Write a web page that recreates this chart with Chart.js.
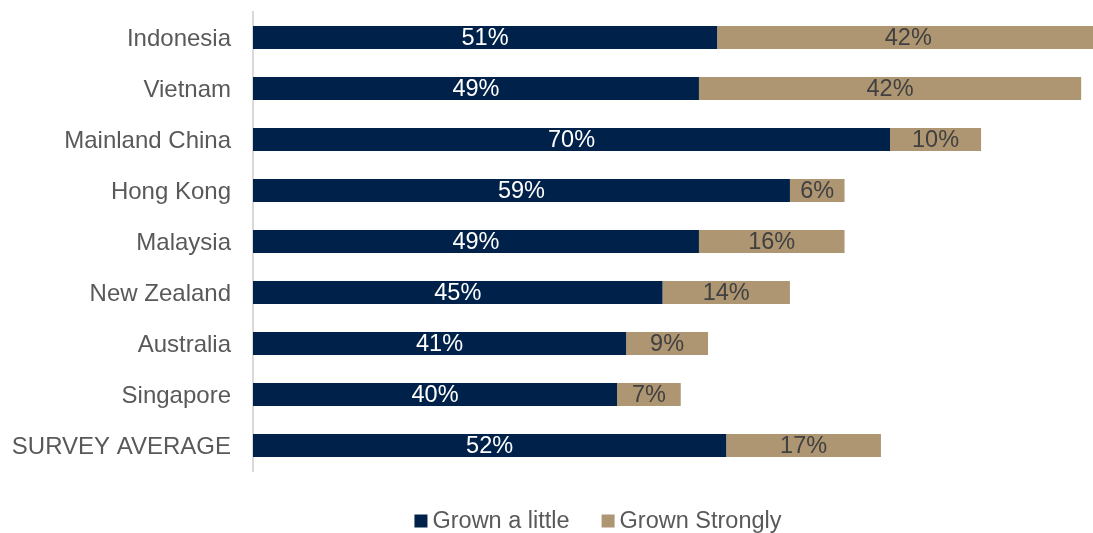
<!DOCTYPE html>
<html>
<head>
<meta charset="utf-8">
<script src="https://cdn.jsdelivr.net/npm/chart.js@4"></script>
<style>
  html, body { margin: 0; padding: 0; background: #fff; }
  #wrap { width: 1093px; height: 533px; }
</style>
</head>
<body>
<div id="wrap"><canvas id="growthChart"></canvas></div>
<script>
var countries = ['Indonesia', 'Vietnam', 'Mainland China', 'Hong Kong', 'Malaysia', 'New Zealand', 'Australia', 'Singapore', 'SURVEY AVERAGE'];
var grownLittle = [51, 49, 70, 59, 49, 45, 41, 40, 52];
var grownStrongly = [42, 42, 10, 6, 16, 14, 9, 7, 17];

var navy = '#00224a';
var tan = '#ae9673';
var fontFamily = '"Liberation Sans", Arial, sans-serif';
var fontSize = 24;

// percentage labels centred in each bar segment
var segmentLabels = {
    id: 'segmentLabels',
    afterDatasetsDraw: function(chart) {
        var ctx = chart.ctx;
        ctx.save();
        ctx.font = '23.5px ' + fontFamily;
        ctx.textAlign = 'center';
        ctx.textBaseline = 'middle';
        chart.data.datasets.forEach(function(ds, i) {
            chart.getDatasetMeta(i).data.forEach(function(bar, j) {
                ctx.fillStyle = ds.labelColor;
                ctx.fillText(ds.data[j] + '%', (bar.x + bar.base) / 2, bar.y + 1);
            });
        });
        ctx.restore();
    }
};

// legend under the plot: small square + name, tight spacing
var bottomLegend = {
    id: 'bottomLegend',
    afterDraw: function(chart) {
        var ctx = chart.ctx;
        var box = 13, gap = 5, itemGap = 32;
        var centerX = 598, centerY = 521;
        ctx.save();
        ctx.font = '23.5px ' + fontFamily;
        ctx.textBaseline = 'middle';
        var items = chart.data.datasets.map(function(ds) {
            return { text: ds.label, color: ds.backgroundColor, w: ctx.measureText(ds.label).width };
        });
        var total = 0;
        items.forEach(function(it, i) {
            total += box + gap + it.w + (i > 0 ? itemGap : 0);
        });
        var x = centerX - total / 2;
        items.forEach(function(it) {
            ctx.fillStyle = it.color;
            ctx.fillRect(x, centerY - box / 2, box, box);
            ctx.fillStyle = '#595959';
            ctx.fillText(it.text, x + box + gap, centerY + 1);
            x += box + gap + it.w + itemGap;
        });
        ctx.restore();
    }
};

new Chart(document.getElementById('growthChart').getContext('2d'), {
    type: 'bar',
    data: {
        labels: countries,
        datasets: [
            {
                label: 'Grown a little',
                data: grownLittle,
                backgroundColor: navy,
                labelColor: '#ffffff'
            },
            {
                label: 'Grown Strongly',
                data: grownStrongly,
                backgroundColor: tan,
                labelColor: '#404040'
            }
        ]
    },
    plugins: [segmentLabels, bottomLegend],
    options: {
        indexAxis: 'y',
        responsive: true,
        maintainAspectRatio: false,
        animation: false,
        layout: {
            padding: { left: 11, right: 0, top: 12, bottom: 62 }
        },
        datasets: {
            bar: {
                categoryPercentage: 1,
                barPercentage: 0.45,
                borderWidth: 0
            }
        },
        scales: {
            x: {
                stacked: true,
                min: 0,
                max: 92.3,
                display: false
            },
            y: {
                stacked: true,
                grid: { display: false, drawTicks: false },
                border: { display: true, color: '#d9d9d9', width: 2 },
                ticks: {
                    color: '#595959',
                    padding: 22,
                    labelOffset: 2,
                    font: { family: fontFamily, size: fontSize }
                },
                afterFit: function(scale) {
                    scale.width = 242;
                    scale.paddingTop = 0;
                    scale.paddingBottom = 0;
                }
            }
        },
        plugins: {
            tooltip: { enabled: false },
            legend: { display: false }
        }
    }
});
</script>
</body>
</html>
